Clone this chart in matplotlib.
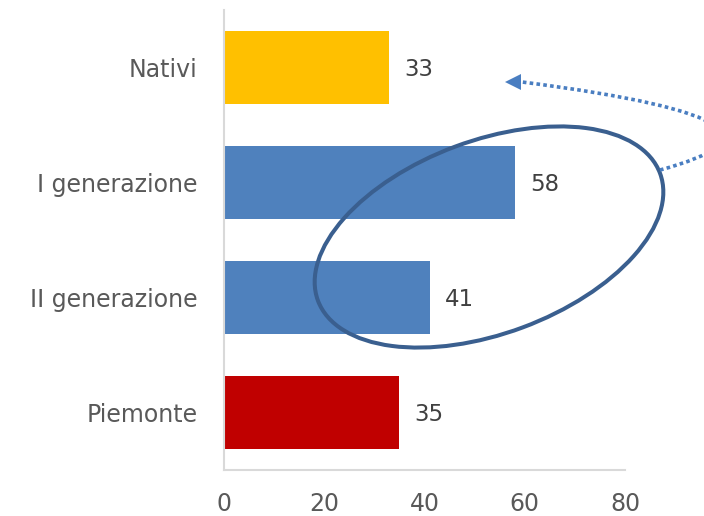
import matplotlib.pyplot as plt
from matplotlib.patches import Ellipse, PathPatch, Polygon
from matplotlib.path import Path
from matplotlib.transforms import IdentityTransform

categorie = ['Nativi', 'I generazione', 'II generazione', 'Piemonte']
valori = [33, 58, 41, 35]
colori = ['#FFC000', '#4F81BD', '#4F81BD', '#C00000']
xticks = [0, 20, 40, 60, 80]

plt.rcParams['font.family'] = ['DejaVu Sans']

fig = plt.figure(figsize=(7.04, 5.16), dpi=100)
# axes in pixel: left 224, right 625, top 10, bottom 470
ax = fig.add_axes([224 / 704, 46 / 516, 401 / 704, 460 / 516])

y = list(range(len(categorie)))
ax.barh(y, valori, height=0.63, color=colori, zorder=2)
for yi, v in zip(y, valori):
    ax.annotate(str(v), (v, yi), xytext=(15, -2), textcoords='offset pixels',
                ha='left', va='center', fontsize=16.5, color='#404040')

ax.set_xlim(0, 80)
ax.set_ylim(3.5, -0.5)
ax.set_xticks(xticks)
ax.set_yticks(y)
ax.set_yticklabels(categorie)
ax.tick_params(axis='both', length=0, labelsize=17, colors='#595959')
ax.tick_params(axis='y', pad=19)
ax.tick_params(axis='x', pad=16)
for s in ['top', 'right']:
    ax.spines[s].set_visible(False)
for s in ['left', 'bottom']:
    ax.spines[s].set_color('#D9D9D9')
    ax.spines[s].set_linewidth(1.5)

H = 516
# ellisse (coordinate in pixel, origine in basso)
ell = Ellipse((489, H - 237), width=365, height=193, angle=20.4,
              fill=False, edgecolor='#3A5F8F', linewidth=2.9,
              transform=IdentityTransform())
fig.patches.append(ell)

# freccia tratteggiata curva
pts = [(660, H - 170), (770, H - 140), (740, H - 110), (522, H - 82)]
curva = PathPatch(Path(pts, [Path.MOVETO, Path.CURVE4, Path.CURVE4, Path.CURVE4]),
                  fill=False, edgecolor='#4A7EC1', linewidth=2.6,
                  linestyle=(0, (1.0, 0.9)), capstyle='butt',
                  transform=IdentityTransform())
fig.patches.append(curva)
punta = Polygon([(505, H - 82), (521, H - 74), (521, H - 90)],
                closed=True, facecolor='#4A7EC1', edgecolor='none',
                transform=IdentityTransform())
fig.patches.append(punta)

fig.savefig('out.png', dpi=100)
